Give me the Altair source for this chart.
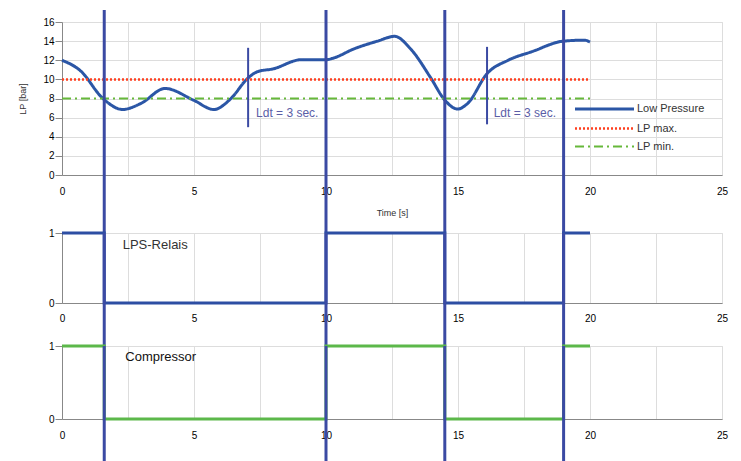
import altair as alt
import pandas as pd

# ---------------- data ----------------
t_lp = [0, 0.7, 1.55, 2.3, 3.0, 3.9, 5.0, 5.75, 6.4, 7.03, 7.4, 8.0,
        9.05, 10.0, 10.25, 11.07, 11.95, 12.6, 13.2, 13.98, 14.48, 14.99, 15.37,
        16.1, 16.9, 17.8, 19.0, 19.8, 20.0]
lp = [12.0, 10.9, 8.0, 6.85, 7.5, 9.05, 7.8, 6.85, 8.0, 10.1, 10.8, 11.1,
      12.05, 12.05, 12.2, 13.2, 14.0, 14.5, 13.2, 10.1, 7.9, 6.9, 7.5,
      10.6, 12.0, 12.9, 14.0, 14.1, 13.9]
limit_t = [0, 20]
lp_max = [10, 10]
lp_min = [8, 8]
series_names = ["Low Pressure", "LP max.", "LP min."]

switch_t = [1.6, 10, 14.5, 19]
step_t = [0, 1.6, 10, 14.5, 19, 20]
relay = [1, 0, 1, 0, 1, 1]
compressor = [1, 0, 1, 0, 1, 1]

ldt_t = [7.05, 16.1]
ldt_top = [13.3, 13.4]
ldt_bot = [5.0, 5.3]
ldt_label_t = [7.35, 16.35]
ldt_label_y = [6.5, 6.5]
ldt_text = ["Ldt = 3 sec.", "Ldt = 3 sec."]

x_ticks = [0, 2.5, 5, 7.5, 10, 12.5, 15, 17.5, 20, 22.5, 25]
lp_ticks = [0, 2, 4, 6, 8, 10, 12, 14, 16]

# ---------------- style ----------------
W = 660
H1, H2, H3 = 153, 70, 73
GAP1, GAP2 = 58, 43
FONT = "Liberation Sans"
GRID = "#c8c8c8"
VLINE = "#3b4aa3"

series = pd.concat([
    pd.DataFrame({"t": t_lp, "v": lp, "s": series_names[0]}),
    pd.DataFrame({"t": limit_t, "v": lp_max, "s": series_names[1]}),
    pd.DataFrame({"t": limit_t, "v": lp_min, "s": series_names[2]}),
])
sw_df = pd.DataFrame({"t": switch_t})
ldt_df = pd.DataFrame({"t": ldt_t, "top": ldt_top, "bot": ldt_bot})
ldt_lab = pd.DataFrame({"t": ldt_label_t, "y": ldt_label_y, "txt": ldt_text})
step_df = pd.DataFrame({"t": step_t, "relay": relay, "comp": compressor})

xscale = alt.Scale(domain=[0, 25], nice=False)
label_expr = "datum.value % 5 == 0 ? datum.label : ''"


def xaxis(title=None, lp_=10, tp=12):
    return alt.Axis(values=x_ticks, labelExpr=label_expr, title=title, grid=True,
                    ticks=False, labelPadding=lp_, titlePadding=tp,
                    titleFontSize=9, titleFontWeight="normal", titleColor="#333",
                    labelFlush=False, labelOverlap=False)


y_top_scale = alt.Scale(domain=[0, 16], nice=False)
y_top_axis = alt.Axis(values=lp_ticks, title="LP [bar]", titleFontSize=9,
                      titleFontWeight="normal", titleColor="#333",
                      titlePadding=15, tickSize=7, labelPadding=1,
                      labelOverlap=False, format="d")
x_top_axis = xaxis("Time [s]", 11, 12)

leg = alt.Legend(orient="none", legendX=531, legendY=75.5, title=None,
                 symbolType="M-2.95,0L2.95,0", symbolSize=400, labelOffset=21,
                 labelFontSize=11, labelColor="#333", labelFont=FONT, rowPadding=1.5)

# ---------- top panel ----------
lines = alt.Chart(series).mark_line(interpolate="monotone").encode(
    x=alt.X("t:Q", scale=xscale, axis=x_top_axis),
    y=alt.Y("v:Q", scale=y_top_scale, axis=y_top_axis),
    color=alt.Color("s:N", scale=alt.Scale(domain=series_names,
                                           range=["#2b56a6", "#ff4020", "#66b83a"]),
                    legend=leg),
    strokeDash=alt.StrokeDash("s:N", scale=alt.Scale(domain=series_names,
                                                     range=[[1, 0], [2, 2], [9, 4, 2, 4]]),
                              legend=leg),
    strokeWidth=alt.StrokeWidth("s:N", scale=alt.Scale(domain=series_names, range=[3, 2, 3]),
                                legend=leg),
    order=alt.Order("t:Q"),
)

ldt_rules = alt.Chart(ldt_df).mark_rule(color=VLINE, strokeWidth=2).encode(
    x=alt.X("t:Q", scale=xscale, axis=x_top_axis),
    y=alt.Y("top:Q", scale=y_top_scale, axis=y_top_axis), y2="bot:Q")
ldt_texts = alt.Chart(ldt_lab).mark_text(align="left", baseline="middle", font=FONT,
                                         fontSize=12, color="#5b5ea6").encode(
    x=alt.X("t:Q", scale=xscale, axis=x_top_axis),
    y=alt.Y("y:Q", scale=y_top_scale, axis=y_top_axis), text="txt:N")
vl_top = alt.Chart(sw_df).mark_rule(color=VLINE, strokeWidth=3).encode(
    x=alt.X("t:Q", scale=xscale, axis=x_top_axis), y=alt.value(-12), y2=alt.value(H1 + GAP1))

top = alt.layer(lines, ldt_rules, ldt_texts, vl_top).properties(width=W, height=H1)

# ---------- middle panel ----------
yaxis01 = alt.Axis(values=[0, 1], title=None, tickSize=7, labelPadding=1, format="d")
y01 = alt.Scale(domain=[0, 1], nice=False)
relay_line = alt.Chart(step_df).mark_line(interpolate="step-after", color="#2d4ea3",
                                          strokeWidth=3).encode(
    x=alt.X("t:Q", scale=xscale, axis=xaxis(None, 10)),
    y=alt.Y("relay:Q", scale=y01, axis=yaxis01),
)
relay_txt = alt.Chart(pd.DataFrame({"t": [2.3], "y": [0.83], "txt": ["LPS-Relais"]})).mark_text(
    align="left", baseline="middle", font=FONT, fontSize=13, color="#333").encode(
    x="t:Q", y=alt.Y("y:Q", scale=y01, axis=yaxis01), text="txt:N")
vl_mid = alt.Chart(sw_df).mark_rule(color=VLINE, strokeWidth=3).encode(
    x="t:Q", y=alt.value(0), y2=alt.value(H2 + GAP2))
mid = alt.layer(relay_line, relay_txt, vl_mid).properties(width=W, height=H2)

# ---------- bottom panel ----------
comp_line = alt.Chart(step_df).mark_line(interpolate="step-after", color="#5cb84a",
                                         strokeWidth=3).encode(
    x=alt.X("t:Q", scale=xscale, axis=xaxis(None, 11)),
    y=alt.Y("comp:Q", scale=y01, axis=yaxis01),
)
comp_txt = alt.Chart(pd.DataFrame({"t": [2.4], "y": [0.85], "txt": ["Compressor"]})).mark_text(
    align="left", baseline="middle", font=FONT, fontSize=13, color="#111").encode(
    x="t:Q", y=alt.Y("y:Q", scale=y01, axis=yaxis01), text="txt:N")
vl_bot = alt.Chart(sw_df).mark_rule(color=VLINE, strokeWidth=3).encode(
    x="t:Q", y=alt.value(0), y2=alt.value(H3 + 50))
bot = alt.layer(comp_line, comp_txt, vl_bot).properties(width=W, height=H3)

lower = alt.vconcat(mid, bot, spacing=GAP2, bounds="flush")
chart = alt.vconcat(top, lower, spacing=GAP1, bounds="flush").properties(
    padding={"left": 10, "top": 0, "right": 0, "bottom": 0}
).configure_view(stroke=None).configure_axis(
    gridColor=GRID, domainColor=GRID, tickColor=GRID, labelColor="#333",
    labelFont=FONT, titleFont=FONT, labelFontSize=11, domainWidth=1, gridWidth=1,
).configure(background="white")

chart.save("out.html", embed_options={"renderer": "svg", "actions": False})
